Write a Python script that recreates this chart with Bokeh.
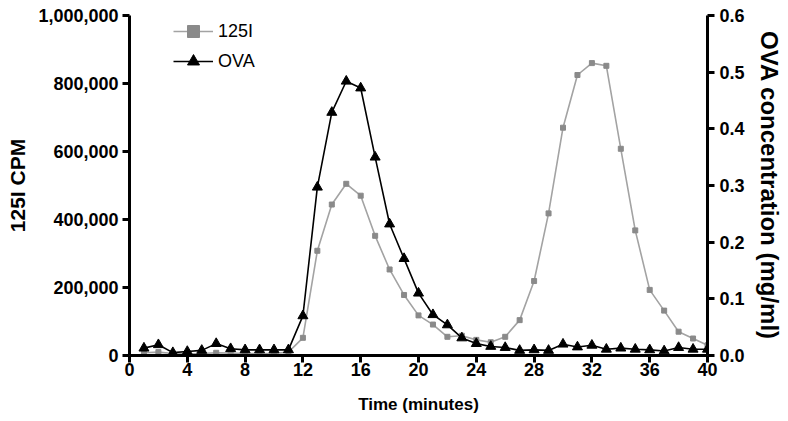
from bokeh.plotting import figure
from bokeh.models import (Range1d, LinearAxis, FixedTicker, NumeralTickFormatter,
                          Legend, LegendItem, ColumnDataSource)
from bokeh.embed import file_html
from bokeh.resources import INLINE

# ---- data ----
minutes = list(range(1, 41))
i125_cpm = [8000, 10000, 6000, 5000, 6000, 8000, 7000, 6000, 6000, 6000,
            10000, 52000, 308000, 444000, 505000, 470000, 352000, 253000, 178000, 118000,
            91000, 55000, 58000, 46000, 39000, 55000, 104000, 219000, 418000, 670000,
            825000, 860000, 852000, 608000, 368000, 193000, 132000, 70000, 50000, 30000]
ova_mgml = [0.013, 0.019, 0.005, 0.007, 0.009, 0.021, 0.012, 0.010, 0.010, 0.010,
            0.010, 0.070, 0.297, 0.429, 0.484, 0.472, 0.350, 0.232, 0.171, 0.110,
            0.072, 0.054, 0.031, 0.021, 0.016, 0.014, 0.009, 0.010, 0.009, 0.020,
            0.015, 0.018, 0.011, 0.013, 0.011, 0.010, 0.008, 0.014, 0.011, 0.011]
x_ticks = [0, 4, 8, 12, 16, 20, 24, 28, 32, 36, 40]
left_ticks = [0, 200000, 400000, 600000, 800000, 1000000]
right_ticks = [0.0, 0.1, 0.2, 0.3, 0.4, 0.5, 0.6]
series_names = ["125I", "OVA"]
x_title = "Time (minutes)"
left_title = "125I CPM"
right_title = "OVA concentration (mg/ml)"

FONT = "Liberation Sans"

src = ColumnDataSource(dict(x=minutes, cpm=i125_cpm, ova=ova_mgml))

W, H = 788, 421
BL, BR, BT, BB = 129, 81, 15, 66
p = figure(width=W, height=H, output_backend="svg", toolbar_location=None,
           x_range=Range1d(0, 40), y_range=Range1d(0, 1000000),
           min_border_left=BL, min_border_right=BR, min_border_top=BT, min_border_bottom=BB,
           background_fill_color="white", border_fill_color="white")
p.outline_line_color = None
p.xgrid.visible = False
p.ygrid.visible = False
p.extra_y_ranges = {"ova": Range1d(0, 0.6)}

def style_axis(ax):
    ax.axis_line_width = 3
    ax.axis_line_color = "black"
    ax.major_tick_line_width = 3
    ax.major_tick_line_color = "black"
    ax.major_tick_out = 7
    ax.major_tick_in = 0
    ax.minor_tick_line_color = None
    ax.major_label_text_font = FONT
    ax.major_label_text_font_style = "bold"
    ax.major_label_text_font_size = "18px"
    ax.major_label_text_color = "black"
    ax.major_label_standoff = 4
    ax.axis_label_text_font = FONT
    ax.axis_label_text_font_style = "bold"
    ax.axis_label_text_color = "black"

xa = p.xaxis[0]
style_axis(xa)
xa.ticker = FixedTicker(ticks=x_ticks)
xa.major_label_standoff = 0
xa.axis_label = x_title
xa.axis_label_text_font_size = "17px"
xa.axis_label_standoff = 16

ya = p.yaxis[0]
style_axis(ya)
ya.ticker = FixedTicker(ticks=left_ticks)
ya.formatter = NumeralTickFormatter(format="0,0")
ya.axis_label = left_title
ya.axis_label_text_font_size = "21px"
ya.axis_label_standoff = 6

ra = LinearAxis(y_range_name="ova")
style_axis(ra)
ra.ticker = FixedTicker(ticks=right_ticks)
ra.formatter = NumeralTickFormatter(format="0.0")
ra.major_label_standoff = 5
ra.axis_label = right_title
ra.axis_label_text_font_size = "24px"
ra.axis_label_standoff = 8
p.add_layout(ra, "right")

gl = p.line("x", "cpm", source=src, line_color="#a3a3a3", line_width=1.6)
gs = p.scatter("x", "cpm", source=src, marker="square", size=5,
               fill_color="#8a8a8a", line_color="#8a8a8a")
bl = p.line("x", "ova", source=src, y_range_name="ova", line_color="black", line_width=1.6)
bs = p.scatter("x", "ova", source=src, y_range_name="ova", marker="triangle", size=10,
               fill_color="black", line_color="black")

legend = Legend(items=[LegendItem(label=series_names[0], renderers=[gl, gs]),
                       LegendItem(label=series_names[1], renderers=[bl, bs])],
                location=(44, 279), orientation="vertical")
legend.padding = 0
legend.margin = 0
legend.spacing = 0
legend.border_line_color = None
legend.background_fill_alpha = 0
legend.glyph_width = 40
legend.glyph_height = 30
legend.label_height = 30
legend.label_standoff = 5
legend.label_text_font = FONT
legend.label_text_font_size = "18px"
legend.label_text_color = "black"
p.add_layout(legend, "center")

open("out.html", "w").write(file_html(p, INLINE))
